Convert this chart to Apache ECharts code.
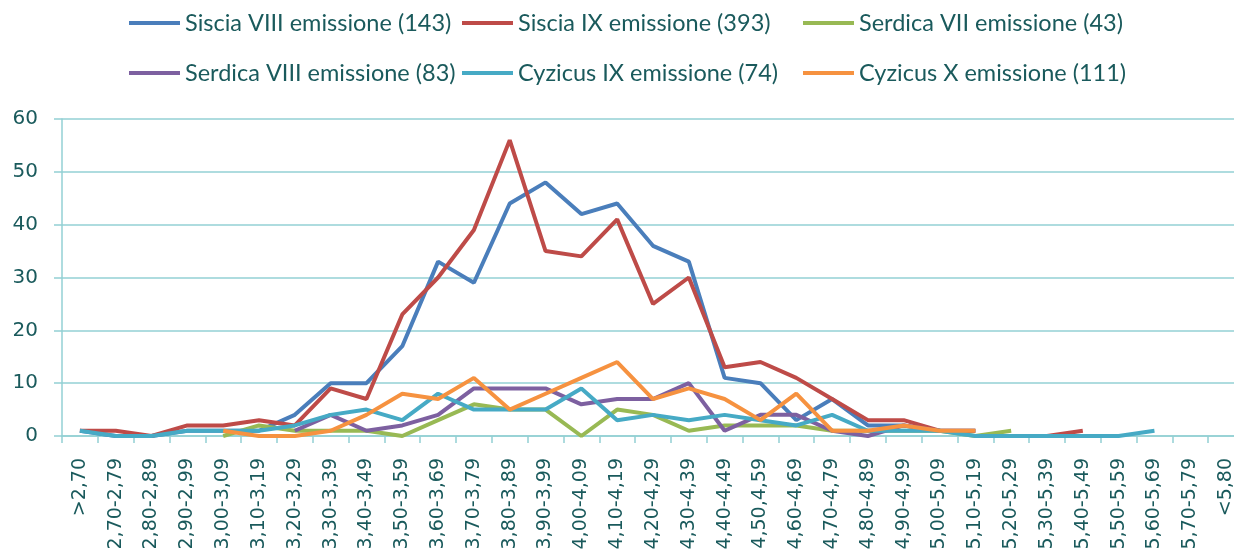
<!DOCTYPE html>
<html>
<head>
<meta charset="utf-8">
<script src="https://cdn.jsdelivr.net/npm/echarts@6/dist/echarts.min.js"></script>
<style>
  html, body { margin: 0; padding: 0; background: #fff; overflow: hidden; }
  #chart { width: 1246px; height: 560px; }
</style>
</head>
<body>
<div id="chart"></div>
<script>
const categories = ['>2,70', '2,70-2,79', '2,80-2,89', '2,90-2,99', '3,00-3,09', '3,10-3,19', '3,20-3,29',
  '3,30-3,39', '3,40-3,49', '3,50-3,59', '3,60-3,69', '3,70-3,79', '3,80-3,89', '3,90-3,99', '4,00-4,09',
  '4,10-4,19', '4,20-4,29', '4,30-4,39', '4,40-4,49', '4,50,4,59', '4,60-4,69', '4,70-4,79', '4,80-4,89',
  '4,90-4,99', '5,00-5,09', '5,10-5,19', '5,20-5,29', '5,30-5,39', '5,40-5,49', '5,50-5,59', '5,60-5,69',
  '5,70-5,79', '<5,80']

const _ = null
const sisciaVIII = [1, 0, 0, 1, 1, 1, 4, 10, 10, 17, 33, 29, 44, 48, 42, 44, 36, 33, 11, 10, 3, 7, 2, 2, 1, 1, _, _, _, _, _, _, _]
const sisciaIX = [1, 1, 0, 2, 2, 3, 2, 9, 7, 23, 30, 39, 56, 35, 34, 41, 25, 30, 13, 14, 11, 7, 3, 3, 1, 1, _, 0, 1, _, _, _, _]
const serdicaVII = [_, _, _, _, 0, 2, 1, 1, 1, 0, 3, 6, 5, 5, 0, 5, 4, 1, 2, 2, 2, 1, 1, 1, 1, 0, 1, _, _, _, _, _, _]
const serdicaVIII = [_, _, _, _, _, _, 1, 4, 1, 2, 4, 9, 9, 9, 6, 7, 7, 10, 1, 4, 4, 1, 0, 2, 1, _, _, _, _, _, _, _, _]
const cyzicusIX = [1, 0, 0, 1, 1, 1, 2, 4, 5, 3, 8, 5, 5, 5, 9, 3, 4, 3, 4, 3, 2, 4, 1, 1, 1, 0, 0, 0, 0, 0, 1, _, _]
const cyzicusX = [_, _, _, _, 1, 0, 0, 1, 4, 8, 7, 11, 5, 8, 11, 14, 7, 9, 7, 3, 8, 1, 1, 2, 1, 1, _, _, _, _, _, _, _]

const seriesNames = ['Siscia VIII emissione (143)', 'Siscia IX emissione (393)', 'Serdica VII emissione (43)',
  'Serdica VIII emissione (83)', 'Cyzicus IX emissione (74)', 'Cyzicus X emissione (111)']
const seriesData = [sisciaVIII, sisciaIX, serdicaVII, serdicaVIII, cyzicusIX, cyzicusX]
const colors = ['#4A7EBB', '#BE4B48', '#98B954', '#7D60A0', '#46AAC5', '#F69240']

const textColor = '#1a5a5c'
const gridColor = '#93d0d4'

const chart = echarts.init(document.getElementById('chart'))

// one legend per entry so the columns line up like the original
const legendPos = [[129, 11], [462, 11], [803, 11], [129, 61], [462, 61], [803, 61]]
const legends = seriesNames.map((name, i) => ({
  data: [name],
  left: legendPos[i][0],
  top: legendPos[i][1],
  padding: 0,
  icon: 'rect',
  itemWidth: 51,
  itemHeight: 4,
  itemGap: 0,
  selectedMode: false,
  textStyle: { color: textColor, fontSize: 23.5, fontFamily: 'Lato' }
}))

chart.setOption({
  animation: false,
  color: colors,
  legend: legends,
  grid: { left: 62, right: 2, top: 119, bottom: 124 },
  xAxis: {
    type: 'category',
    data: categories,
    boundaryGap: true,
    axisLine: { lineStyle: { color: gridColor, width: 1.5 } },
    axisTick: { show: true, length: 7, interval: 0, lineStyle: { color: gridColor, width: 1.5 } },
    axisLabel: {
      interval: 0,
      rotate: 90,
      margin: 22,
      color: textColor,
      fontSize: 19,
      fontFamily: 'DejaVu Sans'
    }
  },
  yAxis: {
    type: 'value',
    min: 0,
    max: 60,
    interval: 10,
    axisLine: { show: true, lineStyle: { color: gridColor, width: 1.5 } },
    axisTick: { show: true, length: 8, lineStyle: { color: gridColor, width: 1.5 } },
    splitLine: { lineStyle: { color: gridColor, width: 1.5 } },
    axisLabel: { color: textColor, fontSize: 20, margin: 24, fontFamily: 'DejaVu Sans' }
  },
  series: seriesNames.map((name, i) => ({
    name: name,
    type: 'line',
    data: seriesData[i],
    symbol: 'none',
    connectNulls: false,
    lineStyle: { width: 4, color: colors[i] },
    itemStyle: { color: colors[i] }
  }))
})
</script>
</body>
</html>
